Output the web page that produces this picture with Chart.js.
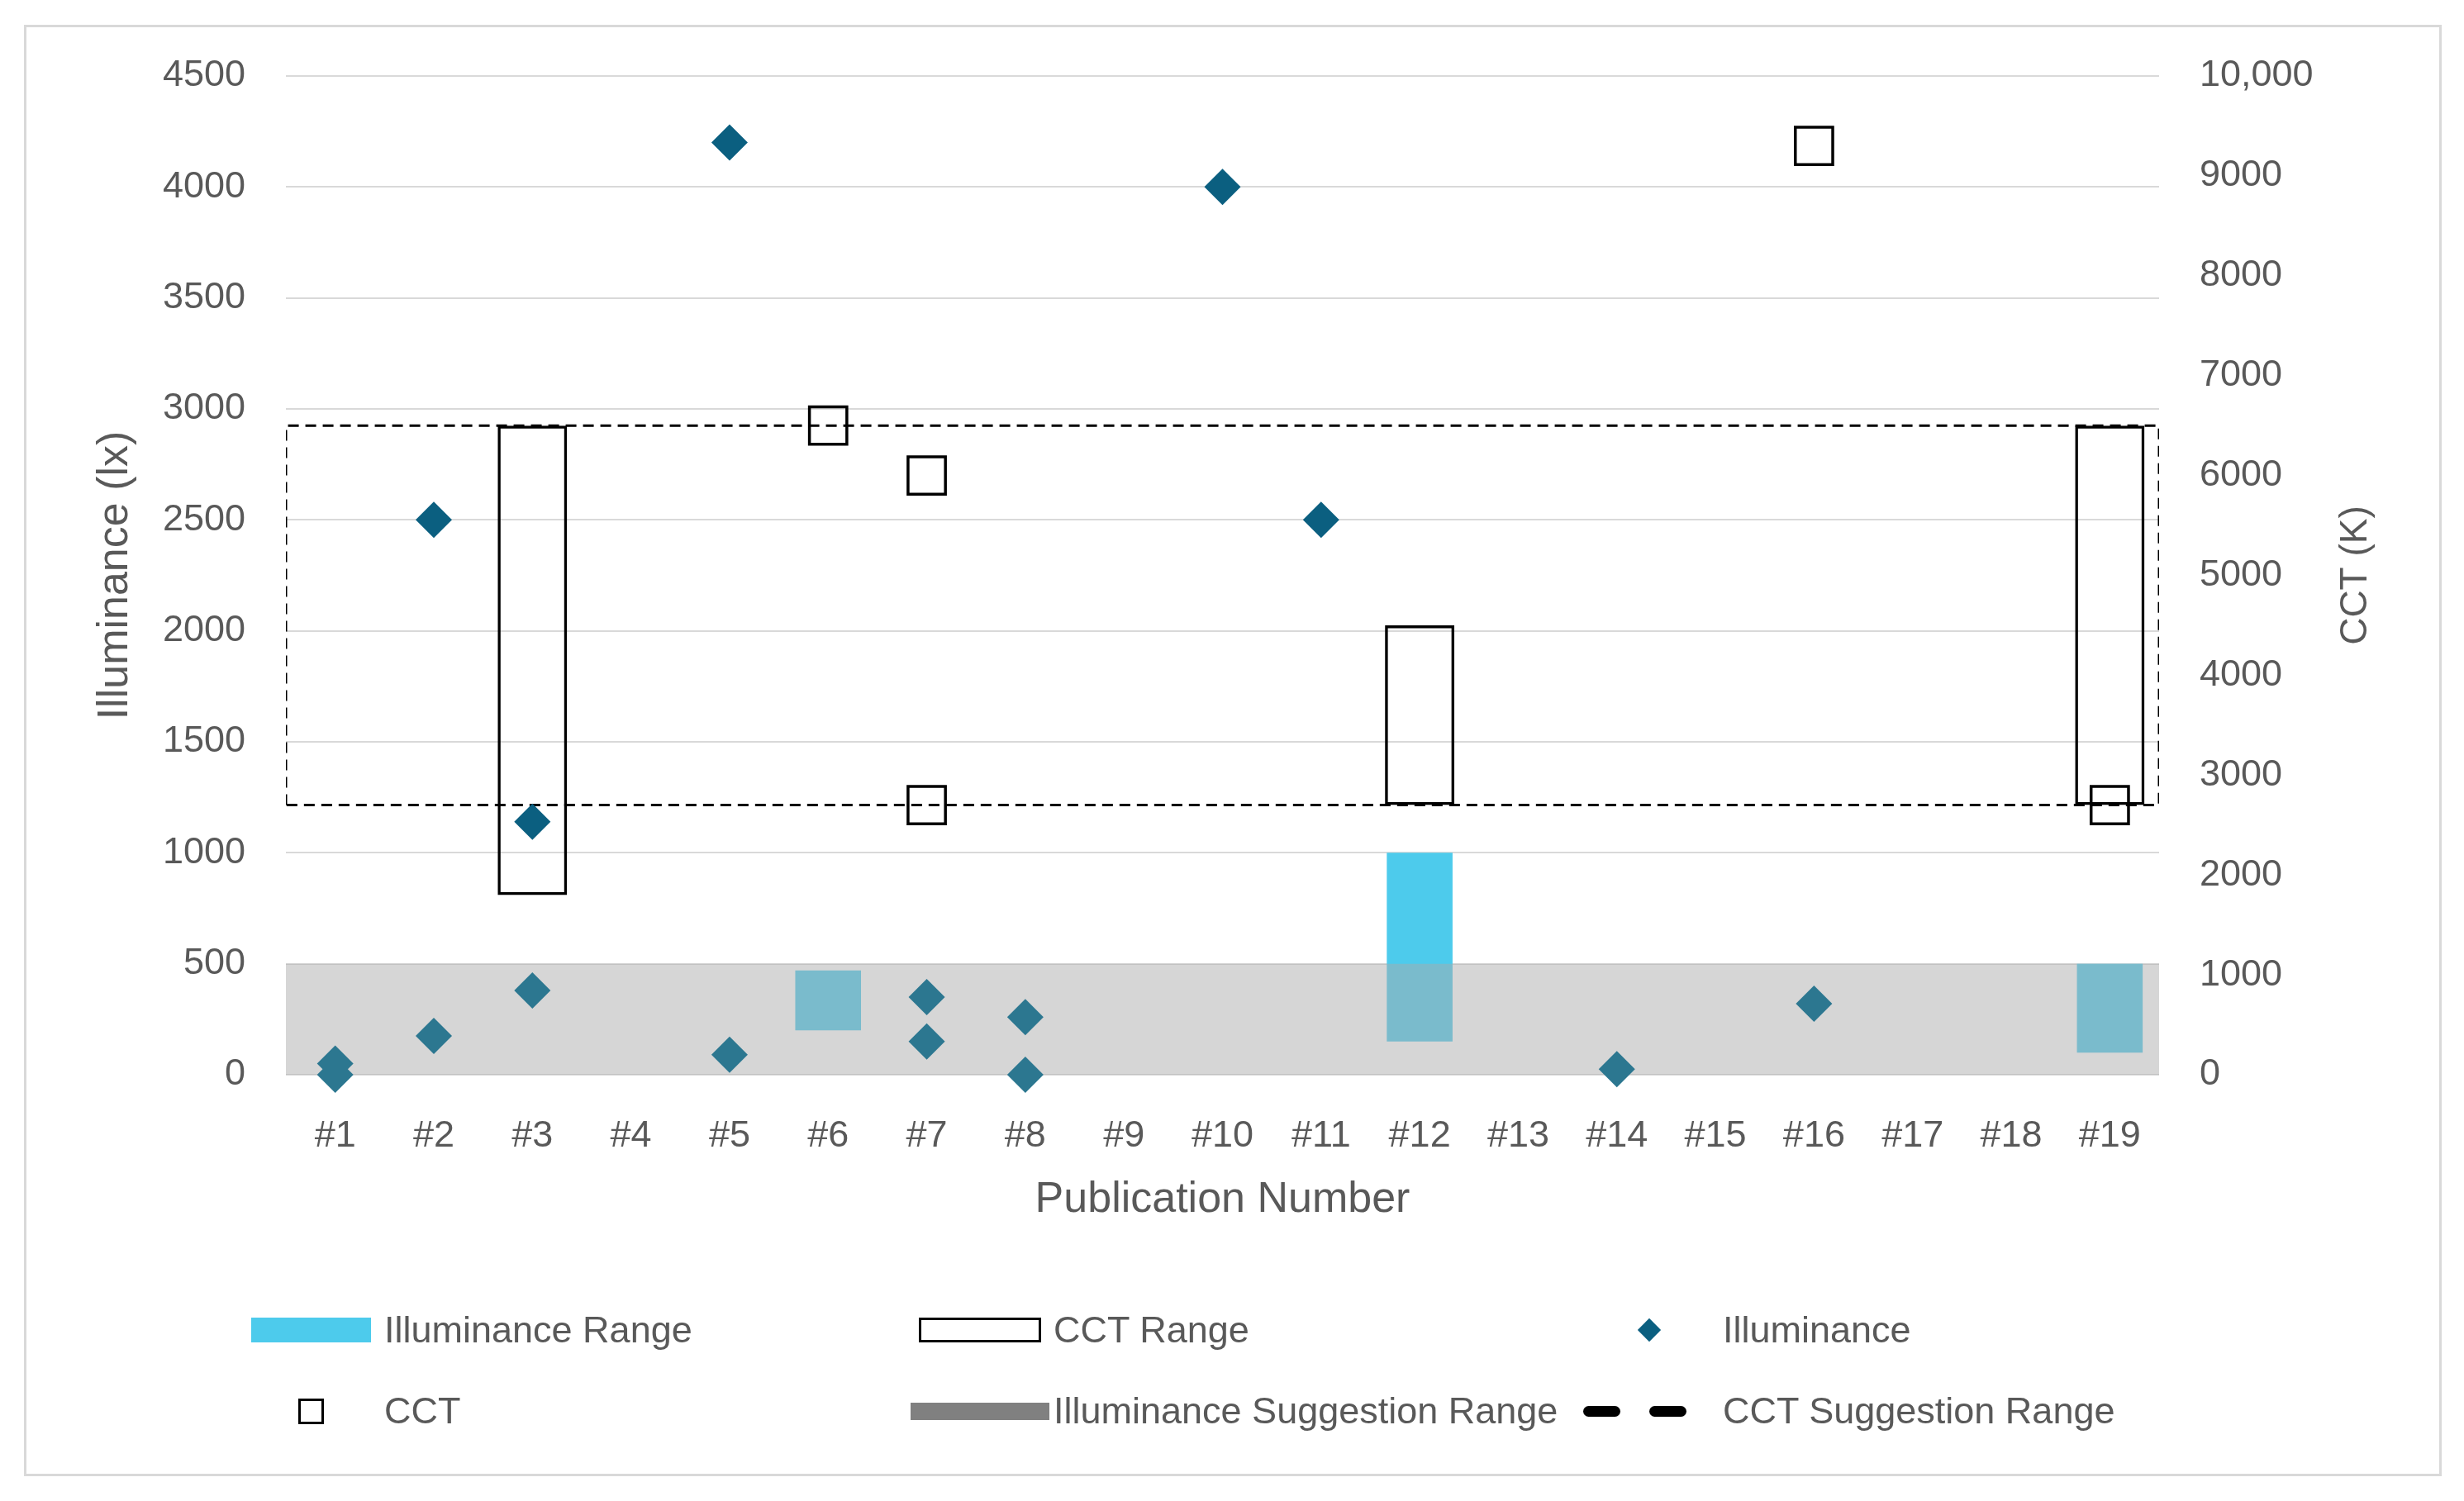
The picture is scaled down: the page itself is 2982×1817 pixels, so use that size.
<!DOCTYPE html>
<html>
<head>
<meta charset="utf-8">
<script src="https://cdn.jsdelivr.net/npm/chart.js@4.4.1/dist/chart.umd.min.js"></script>
<style>
  html, body { margin: 0; padding: 0; background: #fff; overflow: hidden; }
  body { width: 2982px; height: 1817px; position: relative; font-family: 'Liberation Sans', Arial, sans-serif; }
  #frame { position: absolute; left: 29px; top: 30px; width: 2926px; height: 1757px; border: 3px solid #d9d9d9; box-sizing: border-box; }
  #wrap { position: absolute; left: 0; top: 0; width: 2982px; height: 1817px; }
  #legend { position: absolute; left: 302px; top: 1561px; display: grid; grid-template-columns: repeat(3, 810px); grid-auto-rows: 98px; }
  .item { display: flex; align-items: center; font-size: 45px; color: #595959; white-space: nowrap; }
  .slot { width: 148px; margin-right: 15px; display: flex; justify-content: center; align-items: center; flex-shrink: 0; }
  .slot > div { flex-shrink: 0; }
</style>
</head>
<body>
<div id="frame"></div>
<div id="wrap"><canvas id="chart"></canvas></div>
<div id="legend"></div>
<script>
// categories
const publications = ['#1','#2','#3','#4','#5','#6','#7','#8','#9','#10','#11','#12','#13','#14','#15','#16','#17','#18','#19'];

// floating bars, one slot per publication
const illuminanceRange = [null,null,null,null,null,[200,470],null,null,null,null,null,[150,1000],null,null,null,null,null,null,[100,500]];
const cctRange = [null,null,[1800,6500],null,null,null,null,null,null,null,null,[2700,4500],null,null,null,null,null,null,[2700,6500]];

// single reported values (several per publication possible)
const illuminancePub = ['#1','#1','#2','#2','#3','#3','#5','#5','#7','#7','#8','#8','#10','#11','#14','#16'];
const illuminanceLux = [50,0,2500,175,1140,380,4200,90,350,150,260,0,4000,2500,25,320];
const cctPub = ['#6','#7','#7','#16','#19'];
const cctKelvin = [6500,6000,2700,9300,2700];

// recommended ranges
const illuminanceSuggestion = [0,500];
const cctSuggestion = [2700,6500];

const seriesNames = ['Illuminance Range','CCT Range','Illuminance','CCT','Illuminance Suggestion Range','CCT Suggestion Range'];
const xTitle = 'Publication Number';
const yTitle = 'Illuminance (lx)';
const y1Title = 'CCT (K)';

const FONT = "'Liberation Sans', Arial, sans-serif";
const GREY_TEXT = '#595959';
const TEAL = '#0b5f80';
const TEAL_IN_BAND = '#2c7790';
const CYAN = '#4dcbec';

Chart.defaults.font.family = FONT;
Chart.defaults.color = GREY_TEXT;

const nCat = publications.length;
const bandPoints = [{ x: 0, y: illuminanceSuggestion[1] }, { x: nCat, y: illuminanceSuggestion[1] }];
const cctBox = [
  { x: 0, y: cctSuggestion[0] }, { x: 0, y: cctSuggestion[1] },
  { x: nCat, y: cctSuggestion[1] }, { x: nCat, y: cctSuggestion[0] },
  { x: 0, y: cctSuggestion[0] }
];

// right axis title reads bottom-to-top like the left one
const rightTitle = {
  id: 'rightTitle',
  afterDraw(chart) {
    const s = chart.scales.y1;
    const ctx = chart.ctx;
    ctx.save();
    ctx.font = '46px ' + FONT;
    ctx.fillStyle = GREY_TEXT;
    ctx.textAlign = 'center';
    ctx.textBaseline = 'middle';
    ctx.translate(s.right - 31, (s.top + s.bottom) / 2);
    ctx.rotate(-Math.PI / 2);
    ctx.fillText(y1Title, 0, 0);
    ctx.restore();
  }
};

const chart = new Chart(document.getElementById('chart'), {
  type: 'bar',
  data: {
    labels: publications,
    datasets: [
      {
        label: seriesNames[0],
        data: illuminanceRange,
        backgroundColor: CYAN,
        borderWidth: 0,
        grouped: false,
        barPercentage: 0.667,
        categoryPercentage: 1,
        yAxisID: 'y',
        order: 5
      },
      {
        label: seriesNames[1],
        data: cctRange,
        backgroundColor: 'rgba(0,0,0,0)',
        borderColor: '#000',
        borderWidth: 3.5,
        borderSkipped: false,
        grouped: false,
        barPercentage: 0.704,
        categoryPercentage: 1,
        yAxisID: 'y1',
        order: 3
      },
      {
        type: 'line',
        label: seriesNames[2],
        data: illuminancePub.map((p, i) => ({ x: p, y: illuminanceLux[i] })),
        showLine: false,
        clip: false,
        pointStyle: 'rectRot',
        pointRadius: 22,
        pointHoverRadius: 22,
        pointBorderWidth: 0,
        pointBackgroundColor: c => (c.raw && c.raw.y <= illuminanceSuggestion[1]) ? TEAL_IN_BAND : TEAL,
        yAxisID: 'y',
        order: 0
      },
      {
        type: 'line',
        label: seriesNames[3],
        data: cctPub.map((p, i) => ({ x: p, y: cctKelvin[i] })),
        showLine: false,
        clip: false,
        pointStyle: 'rect',
        pointRadius: 32,
        pointHoverRadius: 32,
        pointBorderWidth: 3.5,
        pointBorderColor: '#000',
        pointBackgroundColor: 'rgba(0,0,0,0)',
        yAxisID: 'y1',
        order: 1
      },
      {
        type: 'line',
        label: seriesNames[4],
        data: bandPoints,
        xAxisID: 'x2',
        yAxisID: 'y',
        borderWidth: 0,
        borderColor: 'rgba(0,0,0,0)',
        backgroundColor: 'rgba(170,170,170,0.486)',
        fill: 'origin',
        pointRadius: 0,
        tension: 0,
        order: 4
      },
      {
        type: 'line',
        label: seriesNames[5],
        data: cctBox,
        xAxisID: 'x2',
        yAxisID: 'y1',
        borderColor: '#000',
        borderWidth: 3,
        borderDash: [13, 8],
        fill: false,
        pointRadius: 0,
        tension: 0,
        order: 2
      }
    ]
  },
  options: {
    responsive: true,
    maintainAspectRatio: false,
    animation: false,
    layout: { padding: { left: 100, right: 100, top: 92, bottom: 333 } },
    plugins: {
      legend: { display: false },
      tooltip: { enabled: false }
    },
    scales: {
      x: {
        type: 'category',
        offset: true,
        grid: { display: false },
        border: { display: false },
        ticks: { color: GREY_TEXT, font: { size: 45 }, padding: 40, maxRotation: 0, autoSkip: false },
        title: { display: true, text: xTitle, color: GREY_TEXT, font: { size: 52 }, padding: { top: 0, bottom: 0 } },
        afterFit: s => { s.height = 183; }
      },
      x2: {
        type: 'linear',
        display: false,
        offset: false,
        grid: { offset: false },
        min: 0,
        max: nCat
      },
      y: {
        position: 'left',
        min: 0,
        max: 4500,
        grid: { color: '#d9d9d9', lineWidth: 2, drawTicks: false },
        border: { display: false },
        ticks: { stepSize: 500, color: GREY_TEXT, font: { size: 45 }, padding: 49, callback: v => String(v) },
        title: { display: true, text: yTitle, color: GREY_TEXT, font: { size: 52 }, padding: { top: 8.8, bottom: 0 } },
        afterFit: s => { s.width = 246; }
      },
      y1: {
        position: 'right',
        min: 0,
        max: 10000,
        grid: { display: false, drawTicks: false },
        border: { display: false },
        ticks: { stepSize: 1000, color: GREY_TEXT, font: { size: 45 }, padding: 49,
                 callback: v => v === 10000 ? '10,000' : String(v) },
        afterFit: s => { s.width = 269; }
      }
    }
  },
  plugins: [rightTitle]
});

// legend laid out like the original three-column block
const markers = [
  '<div style="width:145px;height:30px;background:' + CYAN + '"></div>',
  '<div style="width:148px;height:30px;border:3.5px solid #000;box-sizing:border-box"></div>',
  '<div style="width:20px;height:20px;background:' + TEAL + ';transform:rotate(45deg)"></div>',
  '<div style="width:31px;height:31px;border:3.5px solid #000;box-sizing:border-box"></div>',
  '<div style="width:168px;height:21px;background:#808080"></div>',
  '<div style="display:flex;gap:35px;transform:translateX(-18px)"><div style="width:45px;height:13px;background:#000;border-radius:6.5px"></div><div style="width:45px;height:13px;background:#000;border-radius:6.5px"></div></div>'
];
document.getElementById('legend').innerHTML = chart.data.datasets.map((d, i) =>
  '<div class="item"><div class="slot">' + markers[i] + '</div><span>' + d.label + '</span></div>'
).join('');
</script>
</body>
</html>
